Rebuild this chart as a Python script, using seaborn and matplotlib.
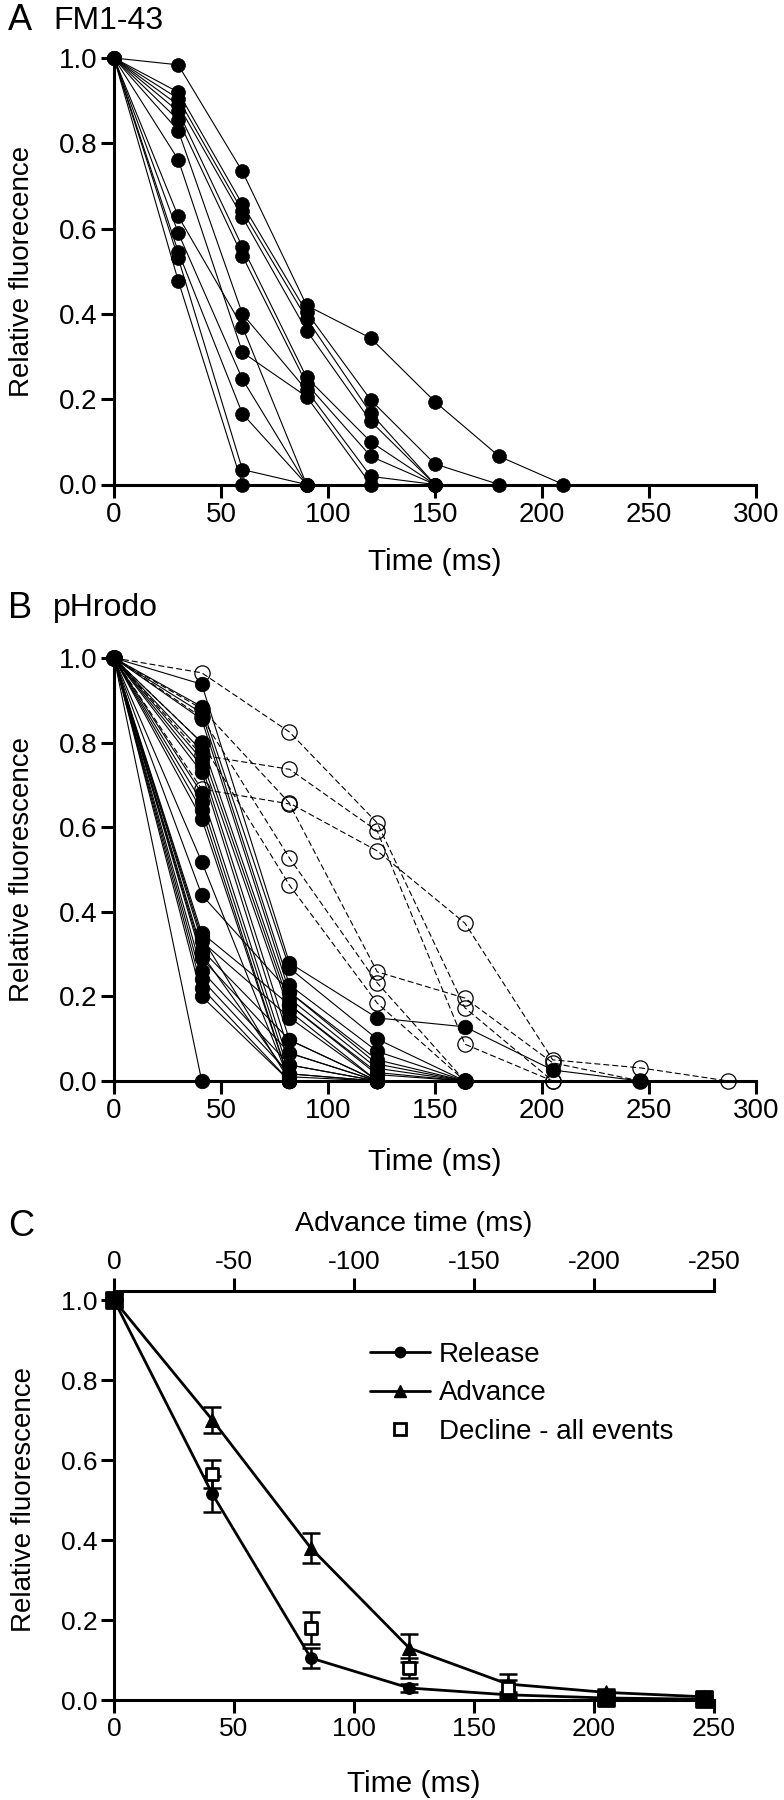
import matplotlib
matplotlib.use("Agg")
import matplotlib.pyplot as plt
import pandas as pd
import seaborn as sns
from matplotlib.lines import Line2D
from matplotlib.ticker import FormatStrFormatter

# ---------------- data ----------------
# Panel A: FM1-43 single-event traces (relative fluorescence vs time)
A_TIME = [0, 30, 60, 90, 120, 150, 180, 210]
A_TRACES = [
    [1, 0.984, 0.734, 0.420, 0.343, 0.194, 0.066, 0.0],
    [1, 0.920, 0.657, 0.404, 0.198, 0.048, 0.0],
    [1, 0.905, 0.641, 0.389, 0.167, 0.0],
    [1, 0.890, 0.627, 0.361, 0.148, 0.0],
    [1, 0.875, 0.557, 0.251, 0.100, 0.0],
    [1, 0.855, 0.536, 0.236, 0.066, 0.0],
    [1, 0.830, 0.400, 0.221, 0.019, 0.0],
    [1, 0.762, 0.310, 0.206, 0.0],
    [1, 0.629, 0.370, 0.0],
    [1, 0.590, 0.247, 0.0],
    [1, 0.546, 0.166, 0.0],
    [1, 0.531, 0.035, 0.0],
    [1, 0.478, 0.0],
]

# Panel B: pHrodo traces (solid = filled circles, dashed = open circles)
B_TIME = [0, 41, 82, 123, 164, 205, 246, 287]
B_SOLID = [
    [1, 0.0],
    [1, 0.938, 0.279, 0.149, 0.128, 0.026, 0.0],
    [1, 0.885, 0.267, 0.099, 0.0],
    [1, 0.870, 0.227, 0.070, 0.0],
    [1, 0.855, 0.210, 0.050, 0.0],
    [1, 0.800, 0.195, 0.030, 0.0],
    [1, 0.780, 0.180, 0.015, 0.0],
    [1, 0.760, 0.165, 0.0],
    [1, 0.745, 0.097, 0.0],
    [1, 0.730, 0.066, 0.0],
    [1, 0.680, 0.038, 0.0],
    [1, 0.660, 0.017, 0.0],
    [1, 0.640, 0.0],
    [1, 0.620, 0.0],
    [1, 0.518, 0.0],
    [1, 0.440, 0.210, 0.040, 0.0],
    [1, 0.350, 0.180, 0.020, 0.0],
    [1, 0.340, 0.0],
    [1, 0.330, 0.150, 0.0],
    [1, 0.310, 0.097, 0.0],
    [1, 0.300, 0.010, 0.0],
    [1, 0.290, 0.066, 0.0],
    [1, 0.260, 0.038, 0.0],
    [1, 0.240, 0.017, 0.0],
    [1, 0.220, 0.0],
    [1, 0.200, 0.0],
]
B_DASHED = [
    [1, 0.965, 0.825, 0.610, 0.173, 0.0],
    [1, 0.770, 0.737, 0.591, 0.087, 0.0],
    [1, 0.880, 0.657, 0.544, 0.373, 0.050, 0.031, 0.0],
    [1, 0.690, 0.655, 0.258, 0.196, 0.043, 0.0],
    [1, 0.860, 0.527, 0.232, 0.0],
    [1, 0.800, 0.463, 0.184, 0.0],
]

# Panel C: averages with error bars
C_TIME = [0, 41, 82, 123, 164, 205, 246]
C_RELEASE = [1.0, 0.515, 0.105, 0.030, 0.013, 0.005, 0.002]
C_RELEASE_ERR = [0.0, 0.045, 0.025, 0.010, 0.008, 0.004, 0.002]
C_ADVANCE = [1.0, 0.700, 0.380, 0.130, 0.040, 0.019, 0.008]
C_ADVANCE_ERR = [0.0, 0.033, 0.038, 0.035, 0.025, 0.008, 0.004]
C_DECLINE = [1.0, 0.565, 0.180, 0.080, 0.030, 0.005, 0.003]
C_DECLINE_ERR = [0.0, 0.035, 0.040, 0.025, 0.020, 0.004, 0.002]
C_LABELS = ["Release", "Advance", "Decline - all events"]

Y_TICKS = [0.0, 0.2, 0.4, 0.6, 0.8, 1.0]
AB_X_TICKS = [0, 50, 100, 150, 200, 250, 300]
C_X_TICKS = [0, 50, 100, 150, 200, 250]
C_TOP_TICKS = [0, -50, -100, -150, -200, -250]


def to_long(traces, times):
    rows = []
    for i, tr in enumerate(traces):
        for t, v in zip(times, tr):
            rows.append((i, t, v))
    return pd.DataFrame(rows, columns=["unit", "time", "value"])


# ---------------- style ----------------
sns.set_theme(style="ticks")
plt.rcParams.update({
    "axes.edgecolor": "black",
    "axes.labelcolor": "black",
    "text.color": "black",
    "xtick.color": "black",
    "ytick.color": "black",
    "axes.unicode_minus": False,
    "axes.linewidth": 2.2,
})
plt.rcParams["font.family"] = ["Liberation Sans", "DejaVu Sans"]

W, H = 784, 1800
fig = plt.figure(figsize=(W / 100, H / 100), dpi=100)


def px_axes(left, top, right, bottom):
    return fig.add_axes([left / W, 1 - bottom / H, (right - left) / W, (bottom - top) / H])


def style_axes(ax, xticks, xlim, ylim, fs):
    ax.set_xlim(xlim)
    ax.set_ylim(ylim)
    ax.set_xticks(xticks)
    ax.set_yticks(Y_TICKS)
    ax.yaxis.set_major_formatter(FormatStrFormatter("%.1f"))
    for s in ["top", "right"]:
        ax.spines[s].set_visible(False)
    for s in ["left", "bottom"]:
        ax.spines[s].set_linewidth(2.2)
    ax.tick_params(axis="both", direction="out", length=9.5, width=2.2,
                   labelsize=fs, color="black", labelcolor="black")
    ax.tick_params(axis="y", pad=2.5)
    ax.tick_params(axis="x", pad=3)
    ax.set_facecolor("none")


axA = px_axes(114, 58, 756, 484.5)
axB = px_axes(114, 658, 756, 1081)
axC = px_axes(114, 1291, 714, 1700)

# ---------------- Panel A ----------------
dfA = to_long(A_TRACES, A_TIME)
sns.lineplot(data=dfA, x="time", y="value", units="unit", estimator=None, sort=False,
             color="black", linewidth=0.8, marker="o", markersize=10,
             markerfacecolor="black", markeredgecolor="black", markeredgewidth=0.5,
             clip_on=False, legend=False, ax=axA)
style_axes(axA, AB_X_TICKS, (0, 300), (0, 1.0), 20)
axA.set_xlabel("Time (ms)", fontsize=21.5, va="center")
axA.xaxis.set_label_coords(0.5, -(562 - 484.5) / 426.5)
axA.set_ylabel("Relative fluorecence", fontsize=20, va="center")
axA.yaxis.set_label_coords((22 - 114) / 642, 0.5)

# ---------------- Panel B ----------------
dfBs = to_long(B_SOLID, B_TIME)
dfBd = to_long(B_DASHED, B_TIME)
sns.lineplot(data=dfBs, x="time", y="value", units="unit", estimator=None, sort=False,
             color="black", linewidth=0.8, marker="o", markersize=10.5,
             markerfacecolor="black", markeredgecolor="black", markeredgewidth=0.5,
             clip_on=False, legend=False, ax=axB)
sns.lineplot(data=dfBd, x="time", y="value", units="unit", estimator=None, sort=False,
             color="black", linewidth=0.8, linestyle=(0, (5.4, 2.7)), marker="o",
             markersize=11, markerfacecolor="none", markeredgecolor="black",
             markeredgewidth=0.9, clip_on=False, legend=False, ax=axB)
style_axes(axB, AB_X_TICKS, (0, 300), (0, 1.0), 20)
axB.set_xlabel("Time (ms)", fontsize=21.5, va="center")
axB.xaxis.set_label_coords(0.5, -(1162 - 1081) / 423)
axB.set_ylabel("Relative fluorescence", fontsize=20, va="center")
axB.yaxis.set_label_coords((22 - 114) / 642, 0.5)

# ---------------- Panel C ----------------
err_kw = dict(fmt="none", ecolor="black", elinewidth=1.8, capsize=6.5, capthick=1.8,
              clip_on=False, zorder=2)
axC.errorbar(C_TIME, C_RELEASE, yerr=C_RELEASE_ERR, **err_kw)
axC.errorbar(C_TIME, C_ADVANCE, yerr=C_ADVANCE_ERR, **err_kw)
axC.errorbar(C_TIME, C_DECLINE, yerr=C_DECLINE_ERR, **err_kw)
sns.lineplot(x=C_TIME, y=C_RELEASE, color="black", linewidth=2.0, marker="o",
             markersize=8.5, markerfacecolor="black", markeredgecolor="black",
             clip_on=False, legend=False, ax=axC, zorder=3)
sns.lineplot(x=C_TIME, y=C_ADVANCE, color="black", linewidth=2.0, marker="^",
             markersize=9.5, markerfacecolor="black", markeredgecolor="black",
             clip_on=False, legend=False, ax=axC, zorder=3)
# squares that sit on top of the other two series read as solid black blobs
dec = pd.DataFrame({"time": C_TIME, "value": C_DECLINE, "rel": C_RELEASE})
overlap = (dec["value"] - dec["rel"]).abs() < 0.01
sns.scatterplot(data=dec[~overlap], x="time", y="value", marker="s", s=75,
                color="white", edgecolor="black", linewidth=2.0, clip_on=False,
                legend=False, ax=axC, zorder=4)
sns.scatterplot(data=dec[overlap], x="time", y="value", marker="s", s=120,
                color="black", edgecolor="black", linewidth=2.0, clip_on=False,
                legend=False, ax=axC, zorder=4)
style_axes(axC, C_X_TICKS, (0, 250), (0, 1.0225), 19)
axC.set_xlabel("Time (ms)", fontsize=21.5, va="center")
axC.xaxis.set_label_coords(0.5, -(1784 - 1700) / 409)
axC.set_ylabel("Relative fluorescence", fontsize=20, va="center")
axC.yaxis.set_label_coords((24 - 114) / 600, (1700 - 1500) / 409)

secax = axC.secondary_xaxis("top", functions=(lambda x: -x, lambda x: -x))
secax.set_xticks(C_TOP_TICKS)
secax.set_xticklabels([str(t) for t in C_TOP_TICKS])
secax.tick_params(direction="out", length=9.5, width=2.2, labelsize=19, pad=3,
                  color="black", labelcolor="black")
secax.spines["top"].set_linewidth(2.2)
axC.text(0.5, 1 + (1291 - 1224) / 409, "Advance time (ms)", transform=axC.transAxes,
         ha="center", va="center", fontsize=20.5)

handles = [
    Line2D([], [], color="black", lw=2.0, marker="o", markersize=7.5),
    Line2D([], [], color="black", lw=2.0, marker="^", markersize=8.5),
    Line2D([], [], color="black", lw=0, linestyle="none", marker="s", markersize=8.5,
           markerfacecolor="white", markeredgewidth=2.0),
]
axC.legend(handles, C_LABELS, loc="upper left",
           bbox_to_anchor=(370 / W, 1 - 1342 / H), bbox_transform=fig.transFigure,
           frameon=False, fontsize=20, handlelength=2.15, handletextpad=0.33,
           labelspacing=0.45, borderpad=0, borderaxespad=0)

# ---------------- panel titles ----------------
fig.text(8 / W, 1 - 21 / H, "A", fontsize=26, ha="left", va="center")
fig.text(53 / W, 1 - 21 / H, "FM1-43", fontsize=23, ha="left", va="center")
fig.text(8 / W, 1 - 608 / H, "B", fontsize=26, ha="left", va="center")
fig.text(53 / W, 1 - 608 / H, "pHrodo", fontsize=23, ha="left", va="center")
fig.text(8 / W, 1 - 1227 / H, "C", fontsize=26, ha="left", va="center")

fig.savefig("out.png", dpi=100, facecolor="white")
